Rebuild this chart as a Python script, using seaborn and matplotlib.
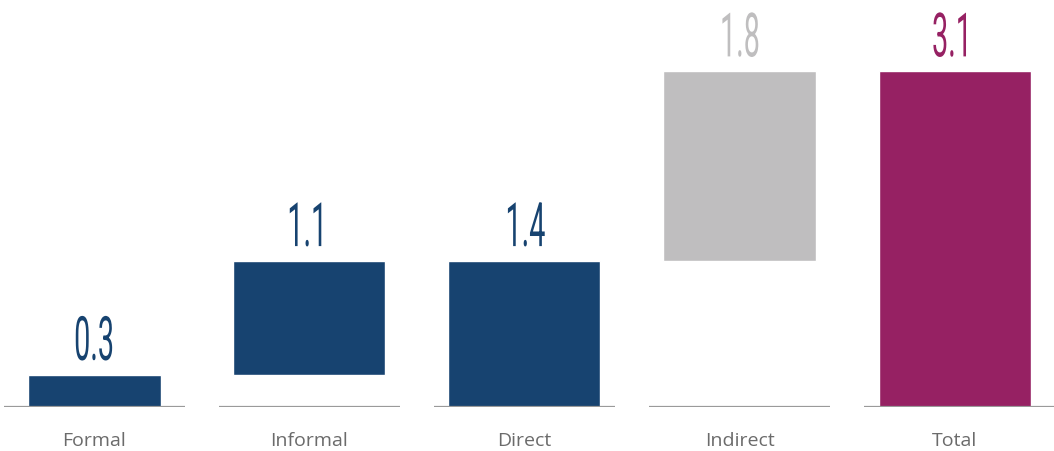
import pandas as pd
import matplotlib
matplotlib.use("Agg")
import matplotlib.pyplot as plt
from matplotlib.patheffects import AbstractPathEffect
from matplotlib.transforms import Affine2D
import seaborn as sns

# values (bar extents) and the printed labels
categories = ["Formal", "Informal", "Direct", "Indirect", "Total"]
amounts = [0.3, 1.05, 1.35, 1.75, 3.1]
bottoms = [0.0, 0.3, 0.0, 1.35, 0.0]
value_labels = ["0.3", "1.1", "1.4", "1.8", "3.1"]
bar_colors = ["#174370", "#174370", "#174370", "#bfbebf", "#962163"]


class Squeeze(AbstractPathEffect):
    # narrow the glyphs horizontally (no condensed font installed)
    def __init__(self, sx):
        super().__init__()
        self.sx = sx

    def draw_path(self, renderer, gc, tpath, affine, rgbFace=None):
        ext = tpath.get_extents()
        cx = (ext.x0 + ext.x1) / 2
        t = Affine2D().translate(-cx, 0).scale(self.sx, 1).translate(cx, 0) + affine
        renderer.draw_path(gc, tpath, t, rgbFace)


df = pd.DataFrame({"cat": categories, "amount": amounts, "bottom": bottoms})

sns.set_style("white")
plt.rcParams["font.family"] = ["Open Sans", "DejaVu Sans"]

fig = plt.figure(figsize=(10.54, 4.52), dpi=100)
ax = fig.add_axes([0, 0.0973, 1, 0.9027])

sns.barplot(data=df, x="cat", y="amount", hue="cat", palette=bar_colors,
            width=0.707, legend=False, ax=ax, saturation=1)

# waterfall: lift each bar to its starting level
for i, (patch, b, h) in enumerate(zip(ax.patches, df["bottom"], df["amount"])):
    patch.set_y(b)
    patch.set_height(h)
    if i == 0:
        patch.set_width(0.62)
        patch.set_x(i - 0.31)

pos = list(range(len(categories)))
right_ends = [p + 0.42 for p in pos]
right_ends[-1] = 4.462
ax.hlines([0] * len(categories), [p - 0.42 for p in pos], right_ends,
          color="#9a9a9a", linewidth=1.6, zorder=3)

for p, b, h, lab, c in zip(pos, bottoms, amounts, value_labels, bar_colors):
    ax.annotate(lab, (p, b + h), xytext=(0, 10.5), textcoords="offset points",
                ha="center", va="baseline", fontsize=44, color=c,
                family=["Roboto", "DejaVu Sans"], weight="normal",
                path_effects=[Squeeze(0.47)])

ax.set_xlim(-0.438, 4.462)
ax.set_ylim(0, 3.764)
ax.set_xlabel("")
ax.set_ylabel("")
ax.set_yticks([])
ax.tick_params(axis="x", length=0, pad=17, labelsize=14, labelcolor="#6b6b6b")
sns.despine(left=True, bottom=True)

fig.savefig("out.png", dpi=100)
